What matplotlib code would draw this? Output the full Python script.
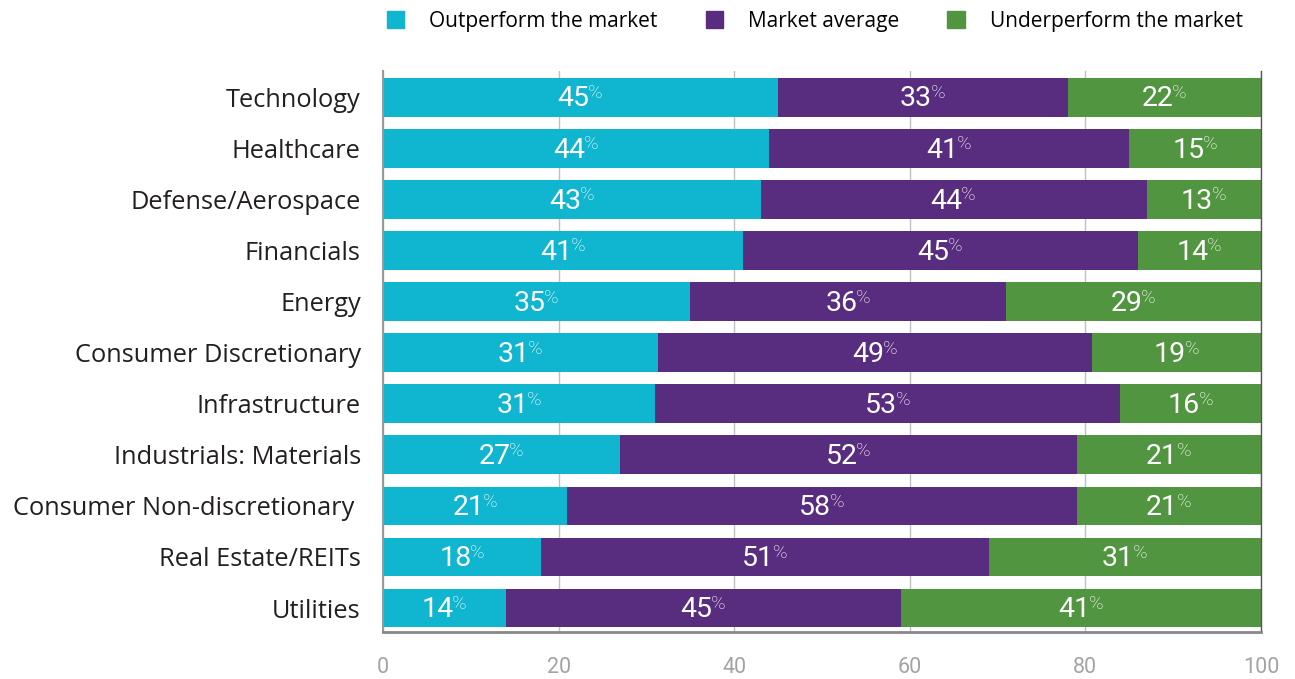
import matplotlib
matplotlib.use("Agg")
import matplotlib.pyplot as plt
from matplotlib.patches import Patch
import numpy as np

# data (percent of respondents per sector)
sectors = ["Technology", "Healthcare", "Defense/Aerospace", "Financials", "Energy",
           "Consumer Discretionary", "Infrastructure", "Industrials: Materials",
           "Consumer Non-discretionary ", "Real Estate/REITs", "Utilities"]
outperform = [45, 44, 43, 41, 35, 31, 31, 27, 21, 18, 14]
average = [33, 41, 44, 45, 36, 49, 53, 52, 58, 51, 45]
underperform = [22, 15, 13, 14, 29, 19, 16, 21, 21, 31, 41]

series_names = ["Outperform the market", "Market average", "Underperform the market"]
colors = ["#10B5CF", "#582C7E", "#529540"]

label_font = "Open Sans"
value_font = "Roboto"

fig = plt.figure(figsize=(12.95, 6.79), dpi=100)
ax = fig.add_axes([0.2958, 0.0692, 0.6779, 0.8262])

# 100% stacked: each row scaled to its own total
data = np.array([outperform, average, underperform], dtype=float)
shares = data / data.sum(axis=0) * 100

y = np.arange(len(sectors))
left = np.zeros(len(sectors))
for vals, widths, col in zip(data, shares, colors):
    ax.barh(y, widths, left=left, height=0.76, color=col, zorder=2)
    for yi, (l, w, v) in enumerate(zip(left, widths, vals)):
        t = ax.annotate(str(int(v)), xy=(l + w / 2, yi), xytext=(-5, -1),
                        textcoords="offset points", ha="center", va="center",
                        color="white", fontsize=20.5, family=value_font, zorder=3)
        ax.annotate("%", xy=(1, 1), xycoords=t, xytext=(-1, 0.8),
                    textcoords="offset points", ha="left", va="top",
                    color="white", fontsize=14, family=value_font,
                    fontweight="light", zorder=3)
    left = left + widths

ax.set_xlim(0, 100)
ax.set_ylim(10.47, -0.52)
ax.set_yticks(y)
ax.set_yticklabels(sectors, family=label_font, fontsize=18.3, color="#231F20")
ax.set_xticks([0, 20, 40, 60, 80, 100])
ax.tick_params(axis="x", length=0, pad=18, labelsize=15.5, labelcolor="#A3A3A3")
ax.tick_params(axis="y", length=0, pad=16)
for lab in ax.get_xticklabels():
    lab.set_family(value_font)

ax.grid(axis="x", color="#C0C0C0", linewidth=1, zorder=0)
ax.set_axisbelow(True)
ax.spines["top"].set_visible(False)
ax.spines["left"].set_color("#999999")
ax.spines["left"].set_linewidth(1.5)
ax.spines["bottom"].set_color("#888888")
ax.spines["bottom"].set_linewidth(2)
ax.spines["right"].set_color("#555555")
ax.spines["right"].set_linewidth(1)

handles = [Patch(color=c) for c in colors]
fig.legend(handles, series_names, loc="upper left", bbox_to_anchor=(0.284, 1.012),
           ncol=3, frameon=False, handlelength=0.85, handleheight=0.85,
           handletextpad=1.2, columnspacing=2.3,
           prop={"family": label_font, "size": 15})

fig.savefig("out.png", dpi=100)
